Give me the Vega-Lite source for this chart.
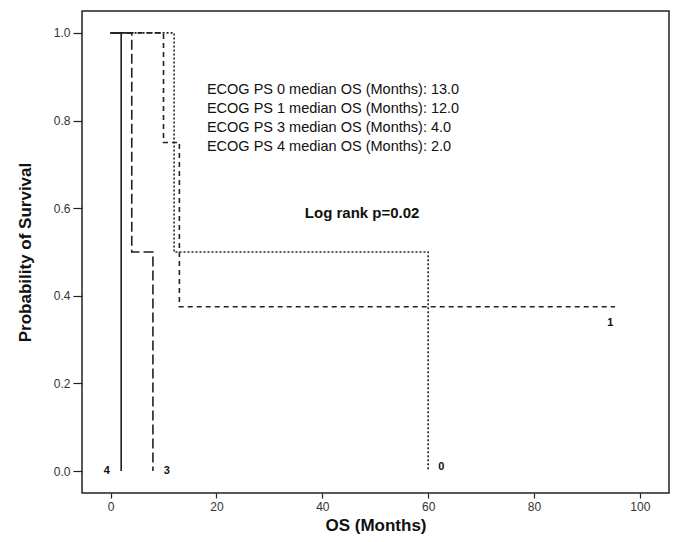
{
  "$schema": "https://vega.github.io/schema/vega-lite/v6.json",
  "width": 587,
  "height": 482,
  "autosize": {"type": "none"},
  "padding": {"left": 82, "top": 11, "right": 7, "bottom": 49},
  "background": "white",
  "config": {
    "view": {"stroke": "#222", "strokeWidth": 1.5},
    "font": "Liberation Sans"
  },
  "datasets": {
    "curves": [
      {"group": "PS0", "months": 0, "surv": 1.0},
      {"group": "PS0", "months": 10, "surv": 0.75},
      {"group": "PS0", "months": 13, "surv": 0.375},
      {"group": "PS0", "months": 95.3, "surv": 0.375},
      {"group": "PS1", "months": 0, "surv": 1.0},
      {"group": "PS1", "months": 12, "surv": 0.5},
      {"group": "PS1", "months": 60, "surv": 0.0},
      {"group": "PS3", "months": 0, "surv": 1.0},
      {"group": "PS3", "months": 4, "surv": 0.5},
      {"group": "PS3", "months": 8, "surv": 0.0},
      {"group": "PS4", "months": 0, "surv": 1.0},
      {"group": "PS4", "months": 2, "surv": 0.0}
    ],
    "counts": [
      {"months": -0.7, "surv": 0.0, "label": "4"},
      {"months": 10.6, "surv": 0.0, "label": "3"},
      {"months": 62.5, "surv": 0.01, "label": "0"},
      {"months": 94.4, "surv": 0.338, "label": "1"}
    ],
    "notes": [
      {"months": 18.2, "surv": 0.87, "label": "ECOG PS 0 median OS (Months): 13.0"},
      {"months": 18.2, "surv": 0.826, "label": "ECOG PS 1 median OS (Months): 12.0"},
      {"months": 18.2, "surv": 0.783, "label": "ECOG PS 3 median OS (Months): 4.0"},
      {"months": 18.2, "surv": 0.74, "label": "ECOG PS 4 median OS (Months): 2.0"}
    ],
    "stat": [
      {"months": 36.7, "surv": 0.589, "label": "Log rank p=0.02"}
    ]
  },
  "encoding": {
    "x": {
      "field": "months",
      "type": "quantitative",
      "scale": {"domain": [-5.4, 105.5], "nice": false, "zero": false},
      "axis": {
        "title": "OS (Months)",
        "titleFontSize": 17,
        "titleFontWeight": "bold",
        "titleColor": "#111",
        "titlePadding": 5,
        "values": [0, 20, 40, 60, 80, 100],
        "format": "d",
        "tickSize": 5,
        "tickColor": "#222",
        "tickWidth": 1.2,
        "labelFontSize": 12,
        "labelColor": "#333",
        "labelPadding": 3,
        "domain": false,
        "grid": false
      }
    },
    "y": {
      "field": "surv",
      "type": "quantitative",
      "scale": {"domain": [-0.05, 1.05], "nice": false, "zero": false},
      "axis": {
        "title": "Probability of Survival",
        "titleFontSize": 17,
        "titleFontWeight": "bold",
        "titleColor": "#111",
        "titlePadding": 19,
        "values": [0, 0.2, 0.4, 0.6, 0.8, 1.0],
        "format": ".1f",
        "tickSize": 9,
        "tickColor": "#222",
        "tickWidth": 1.2,
        "labelFontSize": 12,
        "labelColor": "#333",
        "labelPadding": 3,
        "domain": false,
        "grid": false
      }
    }
  },
  "layer": [
    {
      "data": {"name": "curves"},
      "mark": {"type": "line", "interpolate": "step-after", "color": "#222", "strokeWidth": 1.6},
      "encoding": {
        "detail": {"field": "group", "type": "nominal"},
        "strokeDash": {
          "field": "group",
          "type": "nominal",
          "scale": {"domain": ["PS0", "PS1", "PS3", "PS4"], "range": [[5, 4], [2, 2], [10, 4], [1, 0]]},
          "legend": null
        }
      }
    },
    {
      "data": {"name": "counts"},
      "mark": {"type": "text", "fontSize": 11, "fontWeight": "bold", "color": "#111", "align": "center", "baseline": "middle"},
      "encoding": {"text": {"field": "label", "type": "nominal"}}
    },
    {
      "data": {"name": "notes"},
      "mark": {"type": "text", "fontSize": 14.5, "color": "#111", "align": "left", "baseline": "middle"},
      "encoding": {"text": {"field": "label", "type": "nominal"}}
    },
    {
      "data": {"name": "stat"},
      "mark": {"type": "text", "fontSize": 15, "fontWeight": "bold", "color": "#111", "align": "left", "baseline": "middle"},
      "encoding": {"text": {"field": "label", "type": "nominal"}}
    }
  ]
}
